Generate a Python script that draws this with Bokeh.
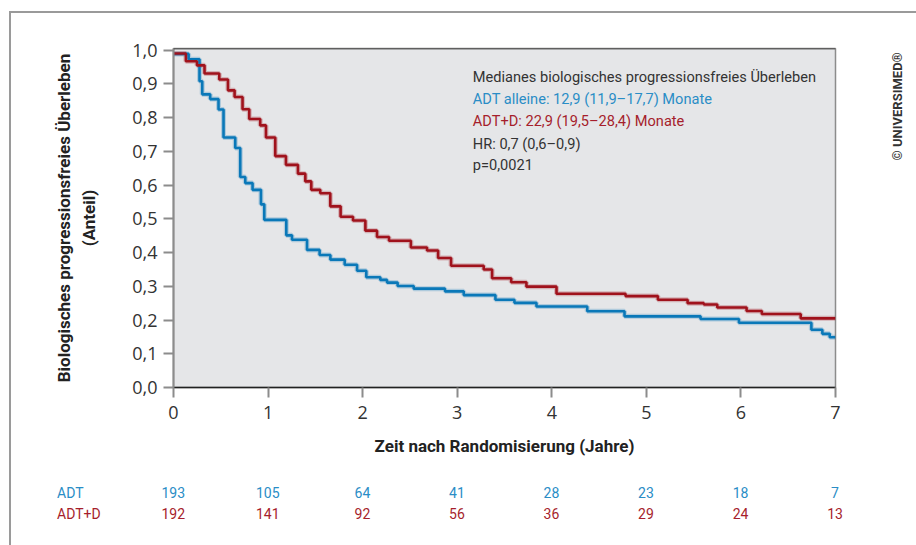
from bokeh.plotting import figure
from bokeh.models import Label, FixedTicker, Range1d, Span, Title, LinearAxis, Div
from bokeh.layouts import column
from bokeh.embed import file_html
from bokeh.resources import INLINE
from math import pi

# ---------------- data ----------------
t_adt = [0, 0.16, 0.275, 0.304, 0.388, 0.476, 0.529, 0.653, 0.706, 0.759,
         0.836, 0.925, 0.960, 1.193, 1.253, 1.412, 1.545, 1.659, 1.810, 1.941,
         2.039, 2.187, 2.258, 2.370, 2.540, 2.871, 3.069, 3.404, 3.605, 3.838,
         4.375, 4.769, 5.573, 5.979, 6.745, 6.861, 6.939, 7.0]
s_adt = [0.989, 0.973, 0.908, 0.869, 0.855, 0.824, 0.741, 0.710, 0.624, 0.606,
         0.586, 0.543, 0.497, 0.451, 0.438, 0.408, 0.393, 0.379, 0.364, 0.346,
         0.327, 0.319, 0.311, 0.301, 0.293, 0.285, 0.274, 0.260, 0.251, 0.240,
         0.226, 0.211, 0.203, 0.192, 0.171, 0.159, 0.149, 0.149]

t_adtd = [0, 0.131, 0.248, 0.328, 0.484, 0.576, 0.646, 0.730, 0.801, 0.917,
          0.978, 1.076, 1.189, 1.316, 1.394, 1.457, 1.552, 1.658, 1.767, 1.898,
          2.029, 2.152, 2.279, 2.510, 2.681, 2.798, 2.935, 3.280, 3.369, 3.571,
          3.732, 4.050, 4.780, 5.122, 5.436, 5.608, 5.750, 6.060, 6.221, 6.632, 7.0]
s_adtd = [0.990, 0.967, 0.955, 0.931, 0.913, 0.881, 0.861, 0.825, 0.796, 0.777,
          0.741, 0.686, 0.660, 0.634, 0.611, 0.586, 0.576, 0.537, 0.506, 0.495,
          0.465, 0.446, 0.435, 0.415, 0.406, 0.384, 0.361, 0.350, 0.324, 0.312,
          0.299, 0.278, 0.271, 0.260, 0.250, 0.246, 0.237, 0.227, 0.218, 0.205, 0.205]

x_ticks = [0, 1, 2, 3, 4, 5, 6, 7]
y_ticks = [0.0, 0.1, 0.2, 0.3, 0.4, 0.5, 0.6, 0.7, 0.8, 0.9, 1.0]
y_tick_labels = ["0,0", "0,1", "0,2", "0,3", "0,4", "0,5", "0,6", "0,7", "0,8", "0,9", "1,0"]

risk_years = [0, 1, 2, 3, 4, 5, 6, 7]
risk_adt = [193, 105, 64, 41, 28, 23, 18, 7]
risk_adtd = [192, 141, 92, 56, 36, 29, 24, 13]

group_names = ["ADT", "ADT+D"]
info_lines = ["Medianes biologisches progressionsfreies Überleben",
              "ADT alleine: 12,9 (11,9–17,7) Monate",
              "ADT+D: 22,9 (19,5–28,4) Monate",
              "HR: 0,7 (0,6–0,9)",
              "p=0,0021"]

x_title = "Zeit nach Randomisierung (Jahre)"
y_title_lines = ["Biologisches progressionsfreies Überleben", "(Anteil)"]
copyright_text = "© UNIVERSIMED®"

# ---------------- styles ----------------
BLUE = "#0a78b8"
RED = "#a0121c"
BLUE_TXT = "#2a8dc6"
RED_TXT = "#a61e2c"
DARK = "#333333"
GRID_BG = "#e5e6e8"
LIGHT_FONT = "Open Sans"
TEXT_FONT = "Roboto"
BOLD_FONT = "Roboto"
FRAME = "#9a9a9a"

W = 916
H1 = 470
H2 = 75
FRAME_L, FRAME_R = 173.3, 835.0

# ---------------- main chart ----------------
p = figure(width=W, height=H1, output_backend="svg", toolbar_location=None,
           x_range=Range1d(0, 7), y_range=Range1d(0, 1.005),
           min_border_left=173, min_border_right=W - 835, min_border_top=48,
           min_border_bottom=H1 - 387)
p.background_fill_color = GRID_BG
p.border_fill_color = None
p.outline_line_color = "#8c8c8c"
p.outline_line_width = 1.5
p.xgrid.visible = False
p.ygrid.visible = False

p.xaxis.ticker = FixedTicker(ticks=x_ticks)
p.yaxis.ticker = FixedTicker(ticks=y_ticks)
p.yaxis.major_label_overrides = {t: l for t, l in zip(y_ticks, y_tick_labels)}
for ax in (p.xaxis, p.yaxis):
    ax.major_tick_out = 10
    ax.major_tick_in = 0
    ax.minor_tick_line_color = None
    ax.major_tick_line_color = "#8c8c8c"
    ax.major_tick_line_width = 2
    ax.major_label_text_font = LIGHT_FONT
    ax.major_label_text_font_size = "18px"
    ax.major_label_text_color = DARK
p.xaxis.axis_line_color = "#222222"
p.xaxis.axis_line_width = 1.5
p.yaxis.axis_line_color = "#8c8c8c"
p.yaxis.axis_line_width = 2
p.xaxis.major_label_standoff = 8
p.yaxis.major_label_standoff = 6
p.xaxis.axis_label = x_title
p.xaxis.axis_label_text_font = BOLD_FONT
p.xaxis.axis_label_text_font_style = "bold"
p.xaxis.axis_label_text_font_size = "17px"
p.xaxis.axis_label_text_color = "#222222"
p.xaxis.axis_label_standoff = 14

p.yaxis.axis_label = y_title_lines[1]
p.yaxis.axis_label_text_font = BOLD_FONT
p.yaxis.axis_label_text_font_style = "bold"
p.yaxis.axis_label_text_font_size = "17px"
p.yaxis.axis_label_text_color = "#222222"
p.yaxis.axis_label_standoff = 30

p.add_layout(Title(text=y_title_lines[0], align="center", standoff=6,
                   text_font=BOLD_FONT, text_font_style="bold", text_font_size="17px",
                   text_color="#222222"), "left")

# copyright as a single rotated label on a bare right-hand axis
copy_pos = 0.673
cax = LinearAxis(ticker=FixedTicker(ticks=[copy_pos]),
                 major_label_overrides={copy_pos: copyright_text},
                 major_label_orientation=pi / 2,
                 major_label_standoff=56,
                 major_label_text_font=BOLD_FONT,
                 major_label_text_font_style="bold",
                 major_label_text_font_size="13px",
                 major_label_text_color=DARK,
                 axis_line_color=None, major_tick_line_color=None,
                 minor_tick_line_color=None)
p.add_layout(cax, "right")

# top border (dark)
p.add_layout(Span(location=1.005, dimension="width", line_color="#333333", line_width=1.5))

# curves (halo + line)
p.step(t_adt, s_adt, mode="after", line_color=BLUE, line_width=5, line_alpha=0.25)
p.step(t_adtd, s_adtd, mode="after", line_color=RED, line_width=5, line_alpha=0.25)
p.step(t_adt, s_adt, mode="after", line_color=BLUE, line_width=2.6)
p.step(t_adtd, s_adtd, mode="after", line_color=RED, line_width=2.6)

info_colors = [DARK, BLUE_TXT, RED_TXT, DARK, DARK]
info_y = [0.921, 0.855, 0.789, 0.722, 0.659]
for txt, col, yy in zip(info_lines, info_colors, info_y):
    p.add_layout(Label(x=3.165, y=yy, text=txt, text_color=col,
                       text_font=TEXT_FONT, text_font_size="14.6px",
                       text_align="left", text_baseline="middle"))

# ---------------- number-at-risk table ----------------
px_per_year = (FRAME_R - FRAME_L) / 7.0
row_top = [493 - H1, 514 - H1]
row_cols = [BLUE_TXT, RED_TXT]
parts = []
for name, top, col, vals in zip(group_names, row_top, row_cols, [risk_adt, risk_adtd]):
    parts.append(f'<span style="position:absolute;left:57px;top:{top}px;'
                 f'transform:translateY(-50%);color:{col};white-space:nowrap">{name}</span>')
    for xv, v in zip(risk_years, vals):
        xpx = FRAME_L + xv * px_per_year
        parts.append(f'<span style="position:absolute;left:{xpx:.1f}px;top:{top}px;'
                     f'transform:translate(-50%,-50%);color:{col};white-space:nowrap">{v}</span>')
html = (f'<div style="position:relative;width:{W}px;height:{H2}px;'
        f'font-family:{TEXT_FONT},sans-serif;font-size:14px;line-height:1">' + "".join(parts) + '</div>')
table = Div(text=html, width=W, height=H2, margin=0)

bg = (f"linear-gradient({FRAME},{FRAME}) 9px 11px / {W - 9}px 2px no-repeat, "
      f"linear-gradient({FRAME},{FRAME}) 9px 11px / 2px {H1 + H2}px no-repeat, white")
layout = column(p, table, spacing=0, styles={"background": bg})

open("out.html", "w").write(file_html(layout, INLINE))
